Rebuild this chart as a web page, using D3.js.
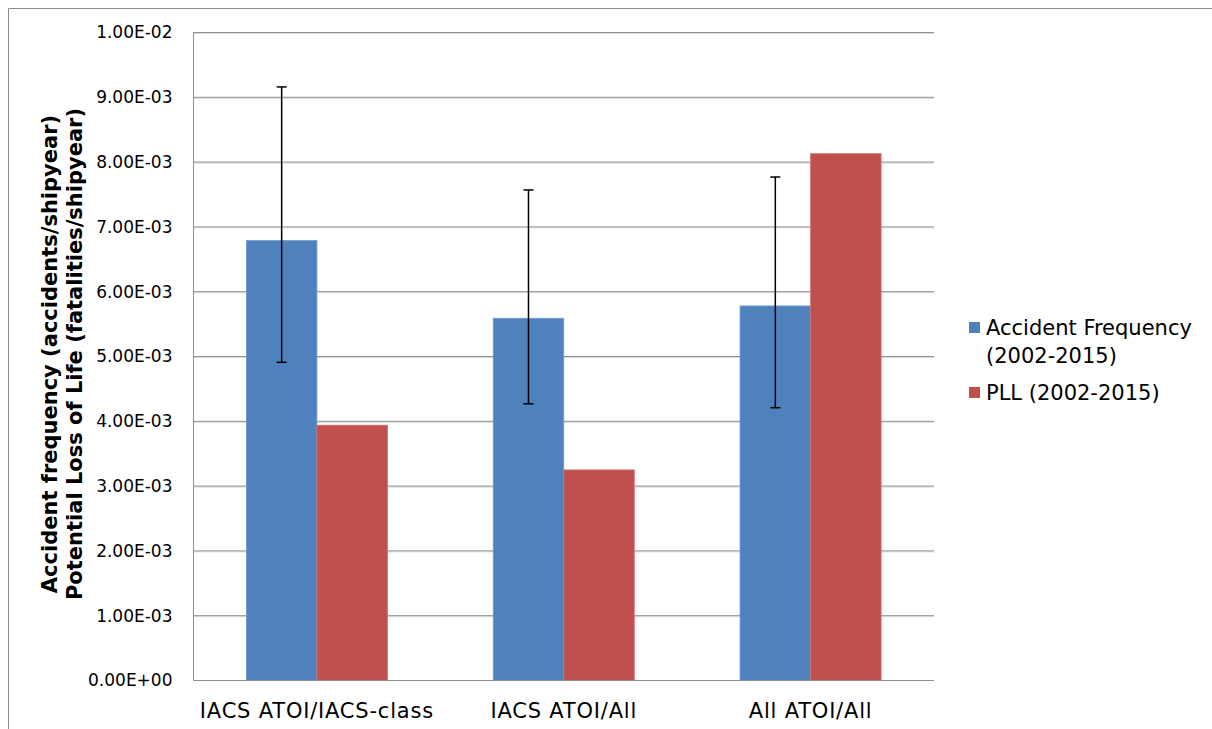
<!DOCTYPE html>
<html>
<head>
<meta charset="utf-8">
<script src="https://cdn.jsdelivr.net/npm/d3@7"></script>
<style>
  html, body { margin: 0; padding: 0; background: #fff; }
  svg { display: block; }
  text { font-family: "DejaVu Sans", Verdana, sans-serif; fill: #000; }
</style>
</head>
<body>
<svg id="chart" width="1212" height="729"></svg>
<script>
// ---- data ----
const categories = ["IACS ATOI/IACS-class", "IACS ATOI/All", "All ATOI/All"];
const seriesNames = ["Accident Frequency (2002-2015)", "PLL (2002-2015)"];
const legendLines = [["Accident Frequency", "(2002-2015)"], ["PLL (2002-2015)"]];
const accidentFrequency = [6.79e-3, 5.59e-3, 5.78e-3];
const pll = [3.94e-3, 3.25e-3, 8.13e-3];
const errorUpper = [9.16e-3, 7.57e-3, 7.77e-3];
const errorLower = [4.91e-3, 4.27e-3, 4.21e-3];
const yTicks = [0, 1e-3, 2e-3, 3e-3, 4e-3, 5e-3, 6e-3, 7e-3, 8e-3, 9e-3, 1e-2];
const yTickLabels = ["0.00E+00", "1.00E-03", "2.00E-03", "3.00E-03", "4.00E-03",
  "5.00E-03", "6.00E-03", "7.00E-03", "8.00E-03", "9.00E-03", "1.00E-02"];
const yTitleLines = ["Accident frequency (accidents/shipyear)",
  "Potential Loss of Life (fatalities/shipyear)"];
const colors = ["#4F81BD", "#C0504D"];
const strokeColors = ["#7199cc", "#d07472"];

const svg = d3.select("#chart");

// outer chart frame (cropped at right/bottom)
svg.append("path")
  .attr("d", "M8.5,729 L8.5,8.5 L1212,8.5")
  .attr("fill", "none").attr("stroke", "#8c8c8c").attr("stroke-width", 1);

const plotLeft = 193.5, plotRight = 934, plotTop = 32.5, plotBottom = 680.5;

const x0 = d3.scaleBand().domain(categories).range([plotLeft, plotRight])
  .paddingInner(3 / 7).paddingOuter(3 / 14);
const x1 = d3.scaleBand().domain(seriesNames).range([0, x0.bandwidth()]);
const y = d3.scaleLinear().domain([0, 1e-2]).range([plotBottom, plotTop]);

// gridlines (dark line with light shadow beneath)
const grid = svg.append("g");
grid.selectAll("line.shadow").data(yTicks.filter(d => d > 0)).join("line")
  .attr("class", "shadow")
  .attr("x1", plotLeft).attr("x2", plotRight)
  .attr("y1", d => y(d) + 1).attr("y2", d => y(d) + 1)
  .attr("stroke", "#dcdcdc").attr("stroke-width", 1);
grid.selectAll("line.main").data(yTicks.filter(d => d > 0)).join("line")
  .attr("class", "main")
  .attr("x1", plotLeft).attr("x2", plotRight)
  .attr("y1", d => y(d)).attr("y2", d => y(d))
  .attr("stroke", "#8e8e8e").attr("stroke-width", 1);

// bars
const rows = categories.map((c, i) => ({ cat: c, vals: [accidentFrequency[i], pll[i]] }));
const groups = svg.append("g").selectAll("g").data(rows).join("g")
  .attr("transform", d => `translate(${x0(d.cat)},0)`);
groups.selectAll("rect").data(d => d.vals.map((v, j) => ({ v, j }))).join("rect")
  .attr("x", d => x1(seriesNames[d.j]))
  .attr("width", x1.bandwidth())
  .attr("y", d => y(d.v))
  .attr("height", d => y(0) - y(d.v))
  .attr("fill", d => colors[d.j])
  .attr("stroke", d => strokeColors[d.j])
  .attr("stroke-width", 0.8);

// axes lines
svg.append("line").attr("x1", plotLeft).attr("x2", plotLeft)
  .attr("y1", plotTop).attr("y2", plotBottom)
  .attr("stroke", "#8e8e8e").attr("stroke-width", 1);
svg.append("line").attr("x1", plotLeft).attr("x2", plotRight)
  .attr("y1", plotBottom).attr("y2", plotBottom)
  .attr("stroke", "#8e8e8e").attr("stroke-width", 1);

// error bars on accident frequency
const eb = svg.append("g");
categories.forEach((c, i) => {
  const cx = x0(c) + x1(seriesNames[0]) + x1.bandwidth() / 2;
  const g = eb.append("g");
  g.append("line").attr("x1", cx).attr("x2", cx)
    .attr("y1", y(errorUpper[i])).attr("y2", y(errorLower[i]))
    .attr("stroke", "#000").attr("stroke-width", 1.5);
  [errorUpper[i], errorLower[i]].forEach(v => {
    g.append("line").attr("x1", cx - 5).attr("x2", cx + 5)
      .attr("y1", y(v)).attr("y2", y(v))
      .attr("stroke", "#000").attr("stroke-width", 1.5);
  });
});

// y axis labels
const yAxis = d3.axisLeft(y).tickValues(yTicks).tickSize(0).tickPadding(21)
  .tickFormat((d, i) => yTickLabels[i]);
const yg = svg.append("g").attr("transform", `translate(${plotLeft},0)`).call(yAxis);
yg.select(".domain").remove();
yg.selectAll("text").attr("font-family", "DejaVu Sans").attr("font-size", 17).attr("fill", "#000");

// x axis labels
const xAxis = d3.axisBottom(x0).tickSize(0).tickPadding(0);
const xg = svg.append("g").attr("transform", `translate(0,${plotBottom})`).call(xAxis);
xg.select(".domain").remove();
xg.selectAll("text").attr("font-family", "DejaVu Sans").attr("font-size", 21)
  .attr("letter-spacing", "0.8px").attr("fill", "#000")
  .attr("dy", null).attr("y", 37);

// y title
yTitleLines.forEach((t, i) => {
  svg.append("text")
    .attr("transform", `translate(${57 + i * 25},354) rotate(-90)`)
    .attr("text-anchor", "middle")
    .attr("font-weight", "bold").attr("font-size", 21)
    .text(t);
});

// legend
const legendY = [322, 387];
const lg = svg.append("g");
seriesNames.forEach((s, i) => {
  lg.append("rect").attr("x", 969).attr("y", legendY[i])
    .attr("width", 11).attr("height", 11).attr("fill", colors[i]);
  legendLines[i].forEach((line, k) => {
    lg.append("text").attr("x", 986).attr("y", legendY[i] + 13 + k * 28)
      .attr("font-size", 21).text(line);
  });
});
</script>
</body>
</html>
